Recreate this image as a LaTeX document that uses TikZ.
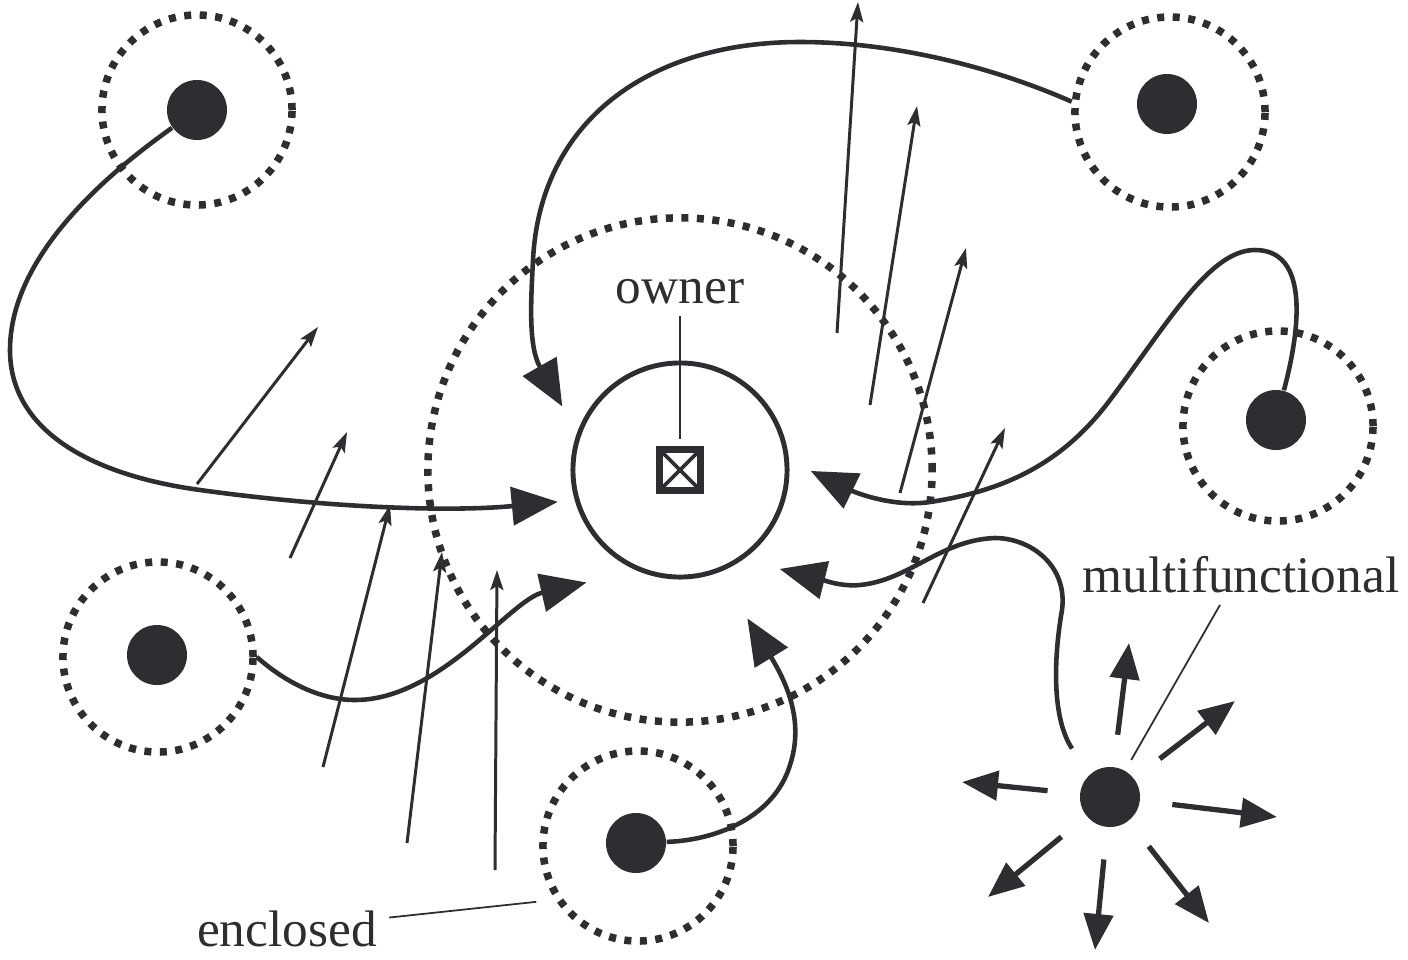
\documentclass[tikz,border=0pt]{standalone}
\usepackage{fontspec}
\setmainfont{Liberation Serif}
\usetikzlibrary{arrows.meta}

\definecolor{ink}{RGB}{45,45,50}

\tikzset{
    agent/.style={circle, fill=ink, minimum size=0.6cm, inner sep=0pt},
    halo/.style={circle, draw=ink, line width=0.075cm, dash pattern=on 0.07cm off 0.085cm,
        minimum size=1.9cm, inner sep=0pt},
    ownerbox/.style={draw=ink, line width=2pt, minimum size=0.41cm, inner sep=0pt,
        path picture={\draw[ink, line width=1.1pt]
            (path picture bounding box.north west) -- (path picture bounding box.south east)
            (path picture bounding box.north east) -- (path picture bounding box.south west);}},
    flow/.style={draw=ink, line width=1.3pt, -{Triangle[length=0.46cm,width=0.38cm]}},
    field/.style={draw=ink, line width=0.85pt, -{Stealth[length=0.2cm,width=0.13cm,inset=0.04cm]}},
    burst/.style={draw=ink, line width=1.5pt, shorten <=0.32cm, -{Triangle[length=0.36cm,width=0.29cm]}},
    leader/.style={draw=ink, line width=0.5pt},
    caption/.style={font=\fontsize{14.6pt}{17pt}\selectfont, text=ink}
}

\begin{document}
\begin{tikzpicture}[x=0.01cm, y=-0.01cm]
    \useasboundingbox (0,0) rectangle (1408,960);

    % Zones
    \node[halo, minimum size=5.04cm] (zone) at (680,470) {};
    \node[halo] (h1) at (197,110) {};
    \node[halo] (h2) at (1170,112) {};
    \node[halo] (h3) at (1278,426) {};
    \node[halo] (h4) at (158,657) {};
    \node[halo] (h5) at (638,846) {};

    % Field
    \draw[field] (197,484) -- (318,327);
    \draw[field] (290,558) -- (347,432);
    \draw[field] (323,767) -- (390,505);
    \draw[field] (407,843) -- (442,552);
    \draw[field] (495,870) -- (497,570);
    \draw[field] (837,333) -- (858,2);
    \draw[field] (870,405) -- (917,106);
    \draw[field] (900,493) -- (966,248);
    \draw[field] (923,603) -- (1005,428);

    % Owner
    \node[circle, draw=ink, line width=1.4pt, minimum size=2.14cm] (core) at (680,470) {};
    \node[ownerbox] (box) at (680,470) {};

    % Agents
    \node[agent] (s1) at (197,110) {};
    \node[agent] (s2) at (1167,104) {};
    \node[agent] (s3) at (1276,420) {};
    \node[agent] (s4) at (157,655) {};
    \node[agent] (s5) at (636,843) {};
    \node[agent] (m) at (1110,797) {};

    % Flows
    \draw[flow, shorten >=0.17cm] (s1) .. controls (120,165) and (10,250) .. (10,350)
        .. controls (10,430) and (90,475) .. (200,490)
        .. controls (330,508) and (450,512) .. (core.196);
    \draw[flow, shorten >=0.3cm] (h2.174) .. controls (1000,70) and (900,42) .. (800,42)
        .. controls (650,42) and (540,120) .. (533,260)
        .. controls (531,300) and (528,346) .. (core.160);
    \draw[flow, shorten >=0.24cm] (s3) .. controls (1300,330) and (1310,250) .. (1255,250)
        .. controls (1210,250) and (1170,320) .. (1110,400)
        .. controls (1065,460) and (1010,490) .. (930,502)
        .. controls (890,508) and (850,490) .. (core.5);
    \draw[flow, shorten <=0.31cm, shorten >=0.38cm] (m.133) .. controls (1050,715) and (1055,650) .. (1062,610)
        .. controls (1068,565) and (1030,538) .. (995,538)
        .. controls (940,540) and (910,580) .. (860,585)
        .. controls (840,587) and (820,579) .. (core.305);
    \draw[flow, shorten >=0.52cm] (h4.east) .. controls (285,682) and (320,700) .. (355,700)
        .. controls (440,700) and (510,600) .. (core.247);
    \draw[flow, shorten >=0.54cm] (s5) .. controls (720,840) and (775,815) .. (790,765)
        .. controls (805,720) and (785,680) .. (core.291);

    % Multifunctional
    \draw[burst] (m) -- (1129,643);
    \draw[burst] (m) -- (1235,701);
    \draw[burst] (m) -- (1277,817);
    \draw[burst] (m) -- (1209,923);
    \draw[burst] (m) -- (1095,950);
    \draw[burst] (m) -- (988,897);
    \draw[burst] (m) -- (962,782);

    % Labels
    \node[caption, anchor=base] (owner) at (680,303) {owner};
    \node[caption, anchor=base] (mf) at (1241,592) {multifunctional};
    \node[caption, anchor=base] (encl) at (287,946) {enclosed};

    \draw[leader, shorten >=0.07cm] (owner) -- (box);
    \draw[leader, shorten >=0.12cm] ([xshift=-0.21cm]mf.south) -- (m);
    \draw[leader, shorten >=0.19cm] (encl) -- (h5.213);
\end{tikzpicture}
\end{document}
